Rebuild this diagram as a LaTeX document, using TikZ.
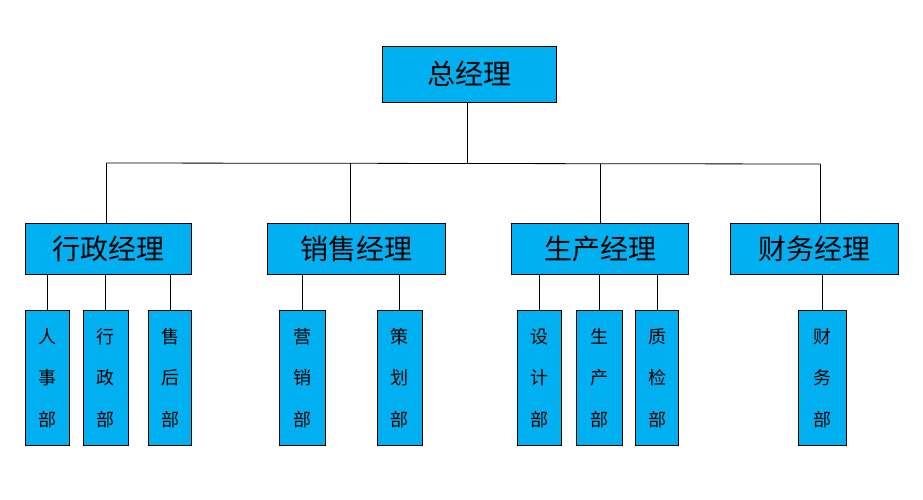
\documentclass[tikz,border=0pt]{standalone}
\usepackage{fontspec}
\newfontfamily\cjk{Noto Sans CJK SC}
\usepackage{xcolor}
\usepackage{tikz}
\usetikzlibrary{positioning,calc}

\definecolor{boxblue}{HTML}{00B0F0}

\begin{document}
\begin{tikzpicture}[x=1pt, y=-1pt,
    box/.style={draw=black, line width=0.9pt, fill=boxblue, inner sep=0pt},
    mgr/.style={box, minimum height=51pt, font=\cjk\fontsize{28}{30}\selectfont},
    dept/.style={box, minimum height=135pt, align=center, font=\cjk\fontsize{18}{41.5}\selectfont},
    link/.style={draw=black, line width=0.8pt}]

\useasboundingbox (0,0) rectangle (923,499);

% General manager
\node[box, minimum width=174pt, minimum height=56pt, font=\cjk\fontsize{28}{30}\selectfont] (gm) at (469.5,74) {总经理};

% Managers
\node[mgr, minimum width=166pt] (xz) at (108.5,248.8) {行政经理};
\node[mgr, minimum width=178pt] (xs) at (356.5,248.8) {销售经理};
\node[mgr, minimum width=177pt] (sc) at (600.2,248.7) {生产经理};
\node[mgr, minimum width=168pt] (cw) at (814.3,248.7) {财务经理};

% Departments
\node[dept, minimum width=44pt] (rs) at (47.5,378) {人\\事\\部};
\node[dept, minimum width=45pt] (xzb) at (105.8,378) {行\\政\\部};
\node[dept, minimum width=43pt] (sh) at (170,378) {售\\后\\部};
\node[dept, minimum width=46pt] (yx) at (302.3,378) {营\\销\\部};
\node[dept, minimum width=45pt] (ch) at (399.8,378) {策\\划\\部};
\node[dept, minimum width=44pt] (sj) at (539.3,378) {设\\计\\部};
\node[dept, minimum width=46pt] (scb) at (599.3,378) {生\\产\\部};
\node[dept, minimum width=43pt] (zj) at (657,378) {质\\检\\部};
\node[dept, minimum width=48pt] (cwb) at (822.3,378) {财\\务\\部};

% Bus line
\coordinate (top) at (467.3,102);
\coordinate (b1) at (106.3,163);
\coordinate (b2) at (350.4,163.3);
\coordinate (b3) at (600.7,163.7);
\coordinate (b4) at (820.3,164);
\draw[link] (top |- gm.south) -- (top |- b3);
\draw[link] (b1) -- (b2) -- (b3) -- (b4);
\foreach \b/\m in {b1/xz, b2/xs, b3/sc, b4/cw}
    \draw[link] (\b) -- (\b |- \m.north);

% Manager to departments
\foreach \d/\m in {rs/xz, xzb/xz, sh/xz, yx/xs, ch/xs, sj/sc, scb/sc, zj/sc, cwb/cw}
    \draw[link] (\d.north) -- (\d.north |- \m.south);

\end{tikzpicture}
\end{document}
